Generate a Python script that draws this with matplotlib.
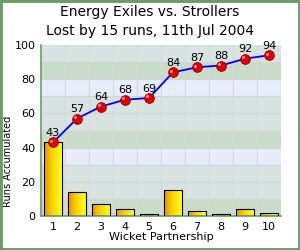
import numpy as np
import matplotlib.pyplot as plt
from matplotlib.colors import LinearSegmentedColormap
from matplotlib.patches import Rectangle

# ---------------- data ----------------
wickets = [1, 2, 3, 4, 5, 6, 7, 8, 9, 10]
partnership_runs = [43, 14, 7, 4, 1, 15, 3, 1, 4, 2]
accumulated_runs = [43, 57, 64, 68, 69, 84, 87, 88, 92, 94]

TITLE_1 = "Energy Exiles vs. Strollers"
TITLE_2 = "Lost by 15 runs, 11th Jul 2004"

# band colours, repeating every 10 runs from 0
BAND_COLOURS = ["#c9dcc9", "#d7e3e1", "#d7e3e1", "#e6ecfa"]
BORDER = "#6b9b6b"

bar_cmap = LinearSegmentedColormap.from_list("gold", ["#e39400", "#ffd800", "#ffff20"])

fig = plt.figure(figsize=(3, 2.5), dpi=100)
fig.patches.append(Rectangle((0, 0), 1, 1, transform=fig.transFigure,
                             fill=False, edgecolor=BORDER, linewidth=3.5))

ax = fig.add_axes([41 / 300, 34 / 250, 240 / 300, 171 / 250])
ax.set_xlim(0.5, 10.5)
ax.set_ylim(0, 100)

# background bands
for i, lo in enumerate(range(0, 100, 10)):
    ax.axhspan(lo, lo + 10, color=BAND_COLOURS[i % 4], zorder=0, lw=0)

# grid
for y in range(10, 100, 10):
    ax.axhline(y, color="#d4d4d4", lw=0.8, zorder=0.5)
for x in np.arange(1.5, 10.5, 1):
    ax.axvline(x, color="#d9d9d9", lw=0.8, zorder=0.5)

# gradient bars
grad = np.linspace(0, 1, 64).reshape(1, -1)
bars = ax.bar(wickets, partnership_runs, width=0.75, facecolor="none",
              edgecolor="black", linewidth=0.8, zorder=3)
for b in bars:
    x0, w, h = b.get_x(), b.get_width(), b.get_height()
    im = ax.imshow(grad, cmap=bar_cmap, aspect="auto",
                   extent=(x0, x0 + w, 0, h), zorder=2)
    im.set_clip_path(b)

# accumulated line
ax.plot(wickets, accumulated_runs, color="#0000ff", lw=1.3, zorder=4)
ax.plot(wickets, accumulated_runs, "o", ms=7, mfc="#e00000",
        mec="#900000", mew=0.6, zorder=5)
ax.plot(np.array(wickets) - 0.08, np.array(accumulated_runs) + 1.0, "o",
        ms=2.2, mfc="#ff9090", mec="none", zorder=6)
for x, y in zip(wickets, accumulated_runs):
    ax.text(x, y + 2.5, str(y), ha="center", va="bottom", fontsize=8, zorder=6)

ax.set_xticks(wickets)
ax.set_yticks(range(0, 101, 20))
ax.tick_params(length=0, labelsize=8, pad=4)
for s in ["top", "right"]:
    ax.spines[s].set_visible(False)
for s in ["left", "bottom"]:
    ax.spines[s].set_color(BORDER)
    ax.spines[s].set_linewidth(1.2)

ax.set_xlabel("Wicket Partnership", fontsize=8, labelpad=0)
ax.set_ylabel("Runs Accumulated", fontsize=7)
ax.yaxis.set_label_coords(-0.118, 0.32)
fig.text(0.5, 1 - 12 / 250, TITLE_1, ha="center", va="center", fontsize=10)
fig.text(0.5, 1 - 31 / 250, TITLE_2, ha="center", va="center", fontsize=10)

fig.savefig("out.png", dpi=100)
